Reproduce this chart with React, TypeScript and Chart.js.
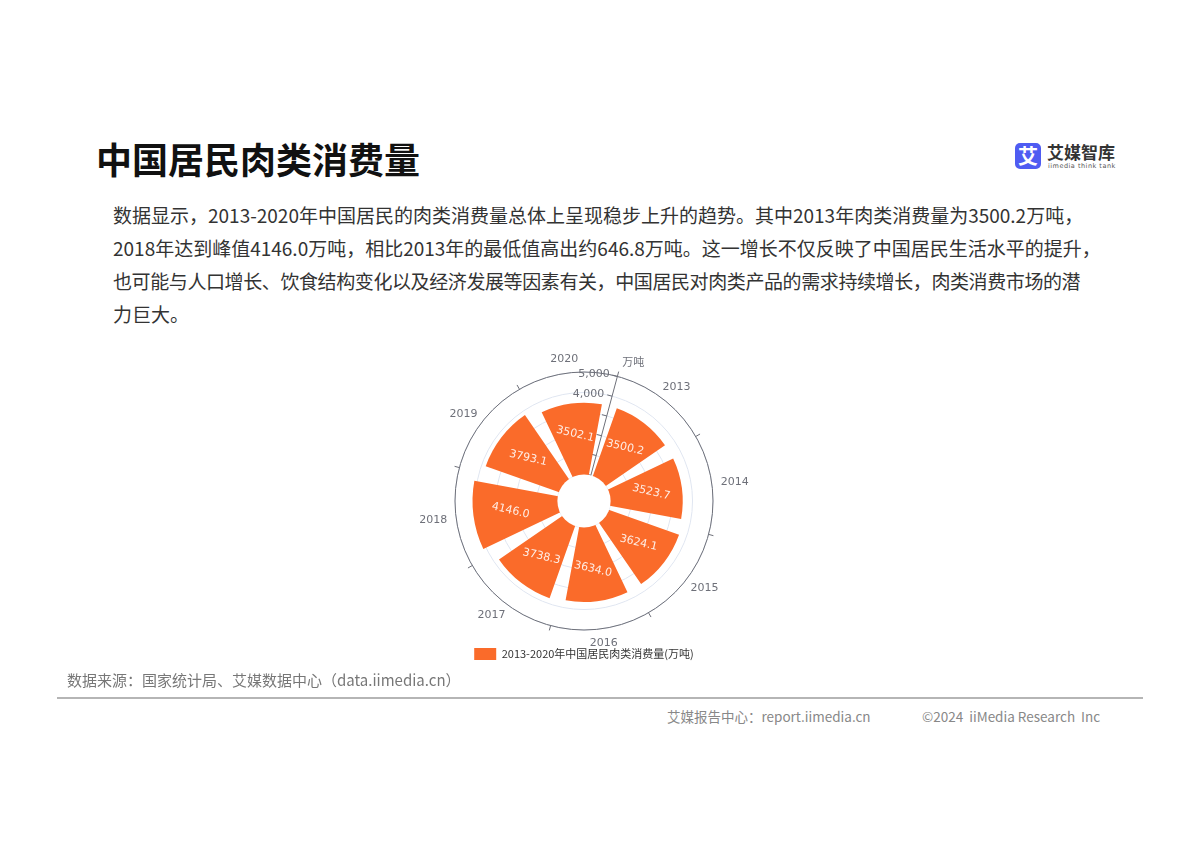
import React, { useEffect, useRef } from 'react';
import { Chart, registerables } from 'chart.js';

Chart.register(...registerables);

// ---------- data ----------
const years = ['2013', '2014', '2015', '2016', '2017', '2018', '2019', '2020'];
const meatConsumption = [3500.2, 3523.7, 3624.1, 3634.0, 3738.3, 4146.0, 3793.1, 3502.1];
const radiusTicks = [0, 1000, 2000, 3000, 4000, 5000];
const radiusTickLabels = ['0', '1,000', '2,000', '3,000', '4,000', '5,000'];
const seriesName = '2013-2020年中国居民肉类消费量(万吨)';
const radiusUnit = '万吨';

const titleText = '中国居民肉类消费量';
const bodyLines = [
  '数据显示，2013-2020年中国居民的肉类消费量总体上呈现稳步上升的趋势。其中2013年肉类消费量为3500.2万吨，',
  '2018年达到峰值4146.0万吨，相比2013年的最低值高出约646.8万吨。这一增长不仅反映了中国居民生活水平的提升，',
  '也可能与人口增长、饮食结构变化以及经济发展等因素有关，中国居民对肉类产品的需求持续增长，肉类消费市场的潜',
  '力巨大。',
];
const sourceText = '数据来源：国家统计局、艾媒数据中心（data.iimedia.cn）';
const footerLeft = '艾媒报告中心：report.iimedia.cn';
const footerRight = '©2024  iiMedia Research  Inc';

// ---------- styling constants ----------
const ORANGE = '#FA6B2A';
const AXIS_COLOR = '#6E7079';
const GRID_COLOR = '#E0E6F1';
const RADIUS_MIN = -1300;
const RADIUS_MAX = 5000;
const LABEL_FROM = 4000; // lower radius labels sit under the bars
const AXIS_START = 15; // degrees clockwise from 12 o'clock
const SLOT = 360 / years.length;
const BAR_ANGLE = SLOT * 0.8;
const GAP_ANGLE = SLOT - BAR_ANGLE;
const CHART_FONT = "'DejaVu Sans', sans-serif";
const CJK_FONT = "'Noto Sans CJK SC', 'Noto Sans', sans-serif";

const rad = (d: number) => (d * Math.PI) / 180;

const polarDeco = {
  id: 'polarDeco',
  beforeDatasetsDraw(chart: any) {
    const s = chart.scales.r;
    const ctx = chart.ctx as CanvasRenderingContext2D;
    const cx = s.xCenter;
    const cy = s.yCenter;
    const a = rad(AXIS_START);
    const ux = Math.sin(a);
    const uy = -Math.cos(a);
    const px = -Math.cos(a);
    const py = -Math.sin(a);
    const r0 = s.getDistanceFromCenterForValue(radiusTicks[0]);
    const R = s.getDistanceFromCenterForValue(RADIUS_MAX);
    ctx.save();
    ctx.strokeStyle = AXIS_COLOR;
    ctx.lineWidth = 1;
    ctx.beginPath();
    ctx.moveTo(cx + ux * r0, cy + uy * r0);
    ctx.lineTo(cx + ux * R, cy + uy * R);
    ctx.stroke();
    ctx.font = `11px ${CHART_FONT}`;
    ctx.fillStyle = AXIS_COLOR;
    ctx.textAlign = 'right';
    ctx.textBaseline = 'middle';
    radiusTicks.forEach((v, i) => {
      const r = s.getDistanceFromCenterForValue(v);
      const x = cx + ux * r;
      const y = cy + uy * r;
      ctx.beginPath();
      ctx.moveTo(x, y);
      ctx.lineTo(x + px * 5, y + py * 5);
      ctx.stroke();
      if (v >= LABEL_FROM) ctx.fillText(radiusTickLabels[i], x + px * 8, y + py * 8);
    });
    ctx.restore();
  },
  afterDatasetsDraw(chart: any) {
    const s = chart.scales.r;
    const ctx = chart.ctx as CanvasRenderingContext2D;
    const cx = s.xCenter;
    const cy = s.yCenter;
    const r0 = s.getDistanceFromCenterForValue(0);
    const R = s.getDistanceFromCenterForValue(RADIUS_MAX);
    ctx.save();
    // hole
    ctx.fillStyle = '#ffffff';
    ctx.beginPath();
    ctx.arc(cx, cy, r0, 0, Math.PI * 2);
    ctx.fill();
    // outer angle axis
    ctx.strokeStyle = AXIS_COLOR;
    ctx.lineWidth = 1;
    ctx.beginPath();
    ctx.arc(cx, cy, R, 0, Math.PI * 2);
    ctx.stroke();
    // ticks and labels
    ctx.font = `11px ${CHART_FONT}`;
    ctx.fillStyle = AXIS_COLOR;
    ctx.textAlign = 'center';
    ctx.textBaseline = 'middle';
    years.forEach((y, i) => {
      const ta = rad(AXIS_START + i * SLOT);
      const tx = Math.sin(ta);
      const ty = -Math.cos(ta);
      ctx.beginPath();
      ctx.moveTo(cx + tx * R, cy + ty * R);
      ctx.lineTo(cx + tx * (R + 5), cy + ty * (R + 5));
      ctx.stroke();
      const la = rad(AXIS_START + (i + 0.5) * SLOT);
      const lx = Math.sin(la);
      const ly = -Math.cos(la);
      const w = ctx.measureText(y).width;
      const h = 11;
      const ax = cx + lx * (R + 9) + lx * (w / 2);
      const ay = cy + ly * (R + 9) + ly * (h / 2);
      ctx.fillText(y, ax, ay);
    });
    // unit name
    {
      const a = rad(AXIS_START);
      const x = cx + Math.sin(a) * (R + 15);
      const y = cy - Math.cos(a) * (R + 15);
      ctx.textAlign = 'left';
      ctx.font = `11px ${CJK_FONT}`;
      ctx.fillText(radiusUnit, x + 1, y);
    }
    // value labels
    ctx.font = `11px ${CHART_FONT}`;
    ctx.fillStyle = 'rgba(255,255,255,0.88)';
    ctx.textAlign = 'center';
    ctx.textBaseline = 'middle';
    meatConsumption.forEach((v, i) => {
      const mid = rad(AXIS_START + GAP_ANGLE / 2 + i * SLOT + BAR_ANGLE / 2);
      const rv = s.getDistanceFromCenterForValue(v);
      const r = (r0 + rv) / 2 + 5;
      const x = cx + Math.sin(mid) * r;
      const y = cy - Math.cos(mid) * r;
      ctx.save();
      ctx.translate(x, y);
      ctx.rotate(rad(13));
      ctx.fillText(v.toFixed(1), 0, 0);
      ctx.restore();
    });
    ctx.restore();
  },
};

function PolarBar() {
  const ref = useRef<HTMLCanvasElement | null>(null);
  useEffect(() => {
    if (!ref.current) return;
    const data = meatConsumption.flatMap((v) => [v, null]);
    const labels = years.flatMap((y) => [y, '']);
    const chart = new Chart(ref.current, {
      type: 'polarArea',
      data: {
        labels,
        datasets: [
          {
            label: seriesName,
            data: data as any,
            backgroundColor: (c: any) => (c.dataIndex % 2 === 0 ? ORANGE : 'rgba(0,0,0,0)'),
            borderWidth: 0,
            angle: (c: any) => (c.dataIndex % 2 === 0 ? BAR_ANGLE : GAP_ANGLE),
          } as any,
        ],
      },
      options: {
        responsive: false,
        animation: false,
        devicePixelRatio: 1,
        layout: { padding: { left: 71, right: 71, top: 42, bottom: 5 } },
        scales: {
          r: {
            min: RADIUS_MIN,
            max: RADIUS_MAX,
            startAngle: AXIS_START + GAP_ANGLE / 2,
            ticks: { display: false },
            afterBuildTicks: (sc: any) => {
              sc.ticks = radiusTicks.map((v) => ({ value: v }));
            },
            grid: { color: GRID_COLOR, circular: true },
            angleLines: { display: false },
            pointLabels: { display: false },
          } as any,
        },
        plugins: {
          tooltip: { enabled: false },
          legend: {
            position: 'bottom',
            onClick: () => {},
            labels: {
              boxWidth: 22,
              boxHeight: 12,
              padding: 18,
              color: '#333',
              useBorderRadius: true,
              borderRadius: 3,
              font: { size: 11, family: CJK_FONT },
              generateLabels: (ch: any) => [
                {
                  text: ch.data.datasets[0].label,
                  fillStyle: ORANGE,
                  strokeStyle: ORANGE,
                  lineWidth: 0,
                  hidden: false,
                  datasetIndex: 0,
                  fontColor: '#333',
                },
              ],
            },
          } as any,
        },
      },
      plugins: [polarDeco],
    } as any);
    return () => chart.destroy();
  }, []);
  return (
    <canvas
      ref={ref}
      width={400}
      height={345}
      style={{ position: 'absolute', left: 384, top: 330, width: 400, height: 345 }}
    />
  );
}

export default function App() {
  return (
    <div
      style={{
        position: 'fixed',
        left: 0,
        top: 0,
        width: 1200,
        height: 849,
        background: '#ffffff',
        overflow: 'hidden',
        fontFamily: CJK_FONT,
      }}
    >
      <div
        style={{
          position: 'absolute',
          left: 96,
          top: 138,
          fontSize: 36,
          lineHeight: '40px',
          fontWeight: 700,
          color: '#111',
          whiteSpace: 'nowrap',
        }}
      >
        {titleText}
      </div>

      {/* logo */}
      <div
        style={{
          position: 'absolute',
          left: 1015,
          top: 143,
          width: 26,
          height: 26,
          borderRadius: 5,
          background: '#4F5CF2',
          color: '#fff',
          fontSize: 20,
          fontWeight: 700,
          lineHeight: '26px',
          textAlign: 'center',
        }}
      >
        艾
      </div>
      <div
        style={{
          position: 'absolute',
          left: 1047,
          top: 142,
          fontSize: 17,
          lineHeight: '19px',
          fontWeight: 700,
          color: '#333',
          whiteSpace: 'nowrap',
        }}
      >
        艾媒智库
      </div>
      <div
        style={{
          position: 'absolute',
          left: 1048,
          top: 162,
          fontSize: 6.5,
          lineHeight: '8px',
          color: '#555',
          letterSpacing: 0.5,
          fontFamily: "'DejaVu Sans', sans-serif",
          whiteSpace: 'nowrap',
        }}
      >
        iimedia think tank
      </div>

      {bodyLines.map((line, i) => (
        <div
          key={i}
          style={{
            position: 'absolute',
            left: 113,
            top: 198 + i * 33,
            width: i < bodyLines.length - 1 ? 967 : undefined,
            fontSize: 19,
            lineHeight: '33px',
            color: '#333',
            whiteSpace: 'nowrap',
            textAlign: i < bodyLines.length - 1 ? 'justify' : 'left',
            textAlignLast: i < bodyLines.length - 1 ? 'justify' : 'auto',
            letterSpacing: i === 2 ? -0.4 : 0,
          }}
        >
          {line}
        </div>
      ))}

      <PolarBar />

      <div
        style={{
          position: 'absolute',
          left: 67,
          top: 669,
          fontSize: 15,
          lineHeight: '22px',
          color: '#777',
          whiteSpace: 'nowrap',
        }}
      >
        {sourceText}
      </div>
      <div
        style={{
          position: 'absolute',
          left: 57,
          top: 697,
          width: 1086,
          height: 2,
          background: '#b5b5b5',
        }}
      />
      <div
        style={{
          position: 'absolute',
          left: 667,
          top: 706,
          fontSize: 13.5,
          lineHeight: '20px',
          color: '#888',
          whiteSpace: 'nowrap',
        }}
      >
        {footerLeft}
      </div>
      <div
        style={{
          position: 'absolute',
          left: 922,
          top: 706,
          fontSize: 13.5,
          lineHeight: '20px',
          color: '#888',
          whiteSpace: 'pre',
        }}
      >
        {footerRight}
      </div>
    </div>
  );
}
